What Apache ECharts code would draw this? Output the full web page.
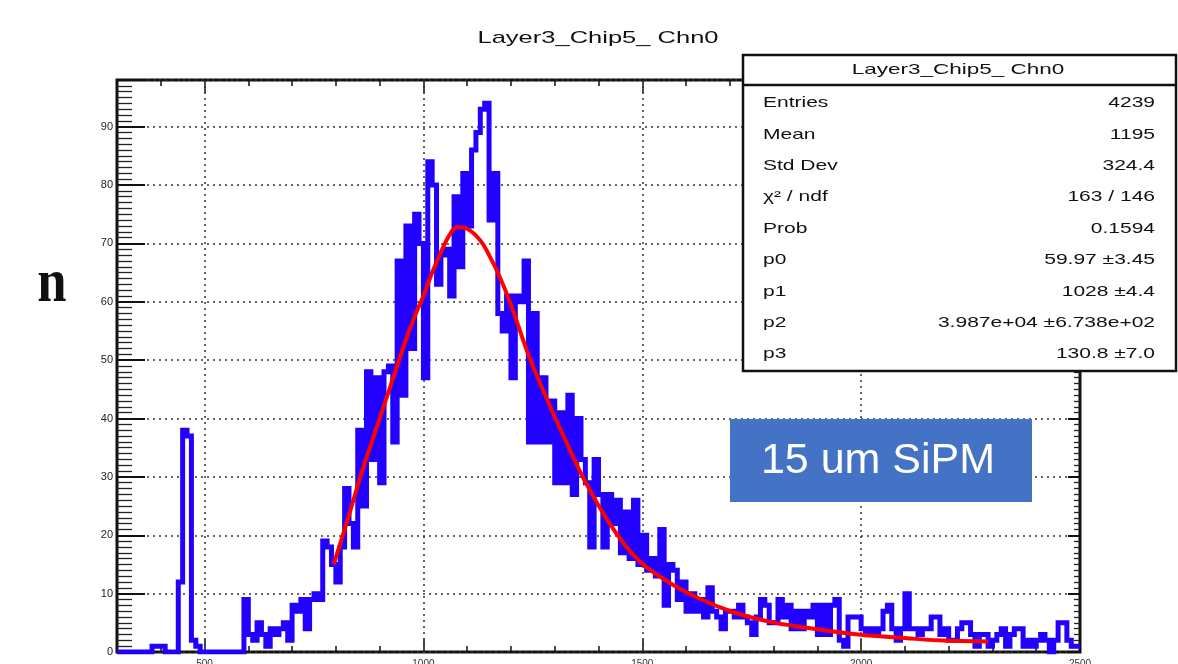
<!DOCTYPE html>
<html><head><meta charset="utf-8">
<script src="https://cdn.jsdelivr.net/npm/echarts@6/dist/echarts.min.js"></script>
<style>html,body{margin:0;padding:0;background:#fff}#c{width:1178px;height:664px}</style>
</head><body><div id="c"></div>
<script>
// ---- data ----
const binStart = 300, binWidth = 10;
const counts = [
  0,0,0,0,0,0,0,0,1,1,          // 300
  1,0,0,0,12,38,37,2,1,0,       // 400
  0,0,0,0,0,0,0,0,0,9,          // 500
  3,2,5,3,1,4,3,4,5,2,          // 600
  8,7,9,4,9,10,9,19,18,15,      // 700
  12,18,28,22,18,38,25,48,33,47,// 800
  29,48,49,36,67,44,73,52,75,70,// 900
  47,84,80,63,68,69,61,78,66,82,// 1000
  73,86,89,93,94,74,82,58,55,61,// 1100
  47,61,60,67,36,58,36,47,36,43,// 1200
  29,41,29,44,27,40,33,29,18,33,// 1300
  27,18,27,22,26,17,24,16,26,15,// 1400
  20,14,16,13,21,8,15,14,9,12,  // 1500
  7,10,7,9,6,11,7,6,4,7,        // 1600
  7,6,8,6,5,3,6,9,8,5,          // 1700
  5,9,6,8,4,7,4,7,6,8,          // 1800
  3,8,3,8,9,2,1,6,6,6,          // 1900
  4,3,4,3,4,7,8,4,2,4,          // 2000
  10,4,4,3,4,4,6,6,3,4,         // 2100
  2,2,4,5,5,3,1,3,3,1,          // 2200
  2,3,4,1,3,4,4,1,2,1,          // 2300
  2,3,2,0,2,5,5,2,1,1           // 2400
];
const fitX = [795,820,840,860,880,900,920,940,960,980,1000,1020,1040,1060,1077,1100,1130,1150,1173,1200,1242,1287,1325,1371,1431,1492,1553,1629,1705,1790,1872,1994,2100,2176,2290];
const fitY = [15,21,26,31,35.5,40,44.5,49,53.5,57.5,61,65,68.5,71.5,72.8,72.5,70.5,68,64.5,59.5,50.5,42.5,36.2,29,21.4,15.7,12.3,9.2,6.9,5.2,4.2,3,2.4,2,1.8];
const xMajorTicks = [500,1000,1500,2000,2500];
const xMinorTicks = [400,600,700,800,900,1100,1200,1300,1400,1600,1700,1800,1900,2100,2200,2300,2400];
const xGridValues = [500,1000,1500,2000];
const titleText = 'Layer3_Chip5_ Chn0';
const statLabels = ['Entries','Mean','Std Dev','χ² / ndf','Prob','p0','p1','p2','p3'];
const statValues = ['4239','1195','324.4','163 / 146','0.1594','59.97 ±3.45','1028 ±4.4','3.987e+04 ±6.738e+02','130.8 ±7.0'];
const noteText = '15 um SiPM';

// ---- build ----
const hist = [];
counts.forEach((c, i) => { const lo = binStart + i * binWidth; hist.push([lo, c], [lo + binWidth, c]); });
const fit = fitX.map((x, i) => [x, fitY[i]]);

const FONT = 'Liberation Sans';
const dotted = { type: [2, 4], color: '#333', width: 1.5 };
function xAx(pos, vals, len, labels) {
  return {
    type: 'value', min: 300, max: 2500, position: pos,
    axisLine: { show: false, onZero: false },
    axisTick: { show: true, inside: true, length: len, customValues: vals, lineStyle: { color: '#111', width: 1.5 } },
    axisLabel: labels ? { show: true, customValues: vals, formatter: v => String(v), fontSize: 10, color: '#333', margin: 7, fontFamily: FONT } : { show: false },
    splitLine: { show: false }
  };
}
function txt(x, y, text, size, align, sx, extra) {
  return Object.assign({
    type: 'text', x: x, y: y, scaleX: sx, z: 102,
    style: { text: text, fontSize: size, fontFamily: FONT, fill: '#111',
      align: align, textAlign: align, verticalAlign: 'middle', textVerticalAlign: 'middle' }
  }, extra || {});
}

const graphics = [
  txt(598, 38, titleText, 17, 'center', 1.5),
  { type: 'rect', shape: { x: 743, y: 55, width: 433, height: 316 }, style: { fill: '#fff', stroke: '#111', lineWidth: 2.5 }, z: 100 },
  { type: 'line', shape: { x1: 743, y1: 85, x2: 1176, y2: 85 }, style: { stroke: '#111', lineWidth: 2.5 }, z: 101 },
  txt(958, 70, titleText, 15, 'center', 1.5),
  { type: 'rect', shape: { x: 730, y: 419, width: 302, height: 83 }, style: { fill: '#4472C4' }, z: 100 },
  txt(878, 461, noteText, 43, 'center', 1, {}),
  { type: 'text', x: 52, y: 285, scaleX: 0.85, z: 102,
    style: { text: 'n', fontSize: 62, fontFamily: 'Liberation Serif', fontWeight: 'bold', fill: '#111',
      align: 'center', textAlign: 'center', verticalAlign: 'middle', textVerticalAlign: 'middle' } }
];
graphics[5].style.fill = '#fff';
statLabels.forEach((l, i) => {
  const y = 103 + 31.4 * i;
  graphics.push(txt(763, y, l, 15, 'left', 1.4));
  graphics.push(txt(1155, y, statValues[i], 15, 'right', 1.4));
});

const option = {
  animation: false,
  backgroundColor: '#fff',
  grid: { left: 117, top: 80, width: 963, height: 572, outerBoundsMode: 'none', containLabel: false,
    show: true, borderColor: '#111', borderWidth: 3, backgroundColor: 'transparent' },
  xAxis: [
    xAx('bottom', xMajorTicks, 13, true),
    xAx('bottom', xMinorTicks, 6, false),
    xAx('top', xMajorTicks, 13, false),
    xAx('top', xMinorTicks, 6, false)
  ],
  yAxis: [
    { type: 'value', min: 0, max: 98, interval: 10, position: 'left',
      axisLine: { show: false, onZero: false },
      axisTick: { inside: true, length: 28, lineStyle: { color: '#111', width: 2 } },
      minorTick: { show: true, splitNumber: 10, length: 15, lineStyle: { color: '#222', width: 1.3 } },
      axisLabel: { fontSize: 11, color: '#222', margin: 4, showMaxLabel: false, fontFamily: FONT },
      splitLine: { show: true, lineStyle: dotted } },
    { type: 'value', min: 0, max: 98, interval: 10, position: 'right',
      axisLine: { show: false, onZero: false },
      axisTick: { inside: true, length: 12, lineStyle: { color: '#111', width: 2 } },
      minorTick: { show: true, splitNumber: 10, length: 6, lineStyle: { color: '#222', width: 1.3 } },
      axisLabel: { show: false }, splitLine: { show: false } }
  ],
  series: [
    { type: 'line', name: 'grid', xAxisIndex: 0, yAxisIndex: 0, data: [], z: 1, silent: true,
      markLine: { silent: true, z: 1, symbol: ['none', 'none'], label: { show: false }, lineStyle: dotted,
        emphasis: { disabled: true }, data: xGridValues.map(v => ({ xAxis: v })) } },
    { type: 'line', name: 'hist', xAxisIndex: 0, yAxisIndex: 0, data: hist, symbol: 'none', showSymbol: false,
      lineStyle: { color: '#2200ff', width: 5, join: 'miter' }, z: 3, silent: true },
    { type: 'line', name: 'fit', xAxisIndex: 0, yAxisIndex: 0, data: fit, symbol: 'none', showSymbol: false, smooth: 0.4,
      lineStyle: { color: '#ff0000', width: 4 }, z: 4, silent: true }
  ],
  graphic: graphics
};
const chart = echarts.init(document.getElementById('c'), null, { renderer: 'canvas', width: 1178, height: 664 });
chart.setOption(option);
</script></body></html>
